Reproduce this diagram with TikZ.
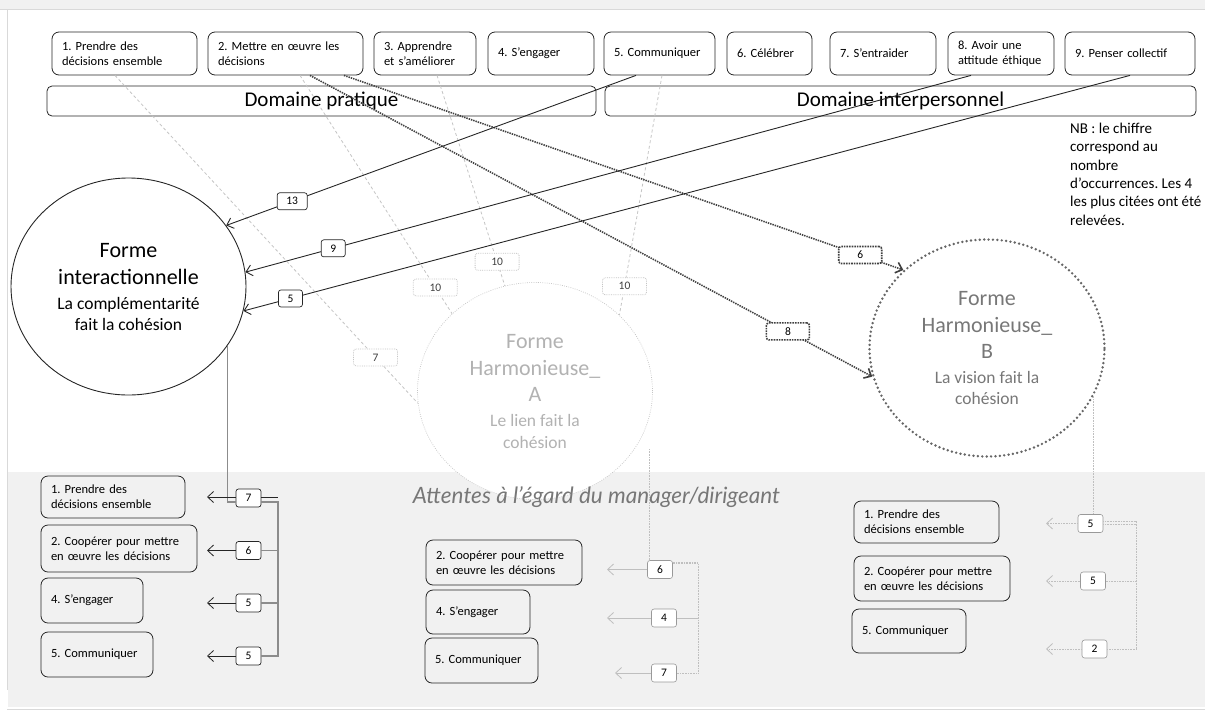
\documentclass[tikz,border=0pt]{standalone}
\usepackage{fontspec}
\setmainfont{Carlito}
\newfontfamily\headfont{Lato}
\usetikzlibrary{arrows.meta,shapes.geometric}
\frenchspacing
\definecolor{panel}{HTML}{F1F1F1}
\definecolor{rulegray}{HTML}{D9D9D9}
\definecolor{faint}{HTML}{C4C4C4}
\definecolor{midgray}{HTML}{777777}
\definecolor{darkgray}{HTML}{404040}
\newcommand\boxf{\fontsize{12.5}{15}\selectfont}
\newcommand\domf{\fontsize{21}{25}\selectfont}
\newcommand\bigf{\fontsize{22}{27}\selectfont}
\newcommand\smallf{\fontsize{17.5}{21}\selectfont}
\newcommand\nbf{\fontsize{15}{18.3}\selectfont}
\newcommand\numf{\fontsize{11.5}{13}\selectfont}
\newcommand\headf{\headfont\itshape\fontsize{22.5}{26}\selectfont}
\begin{document}
\begin{tikzpicture}[x=1pt,y=-1pt,
    practice/.style={draw=black!85,line width=.8pt,rounded corners=7pt,align=left,inner xsep=10pt,minimum height=43pt,font=\boxf},
    domainbox/.style={draw=black!85,line width=.8pt,rounded corners=5pt,minimum height=30pt,font=\domf},
    expect/.style={draw=black!85,line width=.8pt,rounded corners=7pt,align=left,inner xsep=10pt,font=\boxf},
    forme/.style={ellipse,minimum width=235pt,minimum height=217pt,inner sep=0pt,align=center,font=\bigf},
    numbox/.style={fill=white,rounded corners=2.5pt,font=\numf,minimum width=24pt,minimum height=17pt,inner xsep=8pt,inner ysep=1pt},
    numsolid/.style={numbox,draw=black!85,line width=.7pt},
    numdot/.style={numbox,draw=darkgray,densely dotted,minimum width=43pt},
    numfaint/.style={numbox,draw=faint,densely dotted,minimum width=44pt,text=black!75},
    numlight/.style={numbox,draw=black!40,line width=.6pt,minimum width=25pt,minimum height=18pt},
    openhead/.style={-{Straight Barb[length=6pt,width=11pt]}},
    strong/.style={draw=black!85,line width=.9pt,openhead},
    pointed/.style={draw=darkgray,line width=1.6pt,dash pattern=on 1.4pt off 1pt,openhead},
    faintline/.style={draw=faint,line width=.8pt,dash pattern=on 3pt off 2.5pt},
    elbow/.style={draw=black!45,line width=1.3pt},
    lightline/.style={draw=black!25,line width=.8pt},
    lightdot/.style={draw=black!25,line width=.8pt,dash pattern=on .8pt off .8pt}
  ]
  \useasboundingbox (0,0) rectangle (1205,716);
  \fill[panel] (0,0) rectangle (1205,9);
  \draw[rulegray] (0,9.5) -- (1205,9.5);
  \draw[rulegray] (7,10) -- (7,690);
  \fill[panel] (7.5,472) rectangle (1205,707);
  \draw[rulegray] (7,709.5) -- (1205,709.5);

  \node[practice,text width=125pt] (t1) at (124.5,53.5) {1. Prendre des\\décisions ensemble};
  \node[practice,text width=135pt] (t2) at (285.5,53.5) {2. Mettre en œuvre les\\décisions};
  \node[practice,text width=82pt] (t3) at (425,53.5) {3. Apprendre\\et s’améliorer};
  \node[practice,text width=86pt] (t4) at (541,53.5) {4. S’engager};
  \node[practice,text width=91pt] (t5) at (659.5,53.5) {5. Communiquer};
  \node[practice,text width=65pt] (t6) at (769.5,53.5) {6. Célébrer};
  \node[practice,text width=86pt] (t7) at (883,53.5) {7. S’entraider};
  \node[practice,text width=86pt] (t8) at (1001,53.5) {8. Avoir une\\attitude éthique};
  \node[practice,text width=110pt] (t9) at (1130,53.5) {9. Penser collectif};

  \node[domainbox,minimum width=549pt] (dPrat) at (321.5,101) {Domaine pratique};
  \node[domainbox,minimum width=591pt] (dInter) at (900.5,101) {Domaine interpersonnel};

  \node[anchor=north west,align=left,inner sep=0pt,font=\nbf] (nb) at (1070,123)
    {NB : le chiffre\\correspond au\\nombre\\d’occurrences. Les 4\\les plus citées ont été\\relevées.};

  \node[forme,draw=black!85,line width=.9pt] (fInter) at (128.5,286.5)
    {Forme\\interactionnelle\\[-2pt]\smallf La complémentarité\\[-6pt]\smallf fait la cohésion};
  \node[forme,fill=white,draw=faint,line width=.7pt,dash pattern=on .8pt off 1.4pt,text=black!30] (fHarmA) at (535,391)
    {Forme\\Harmonieuse\_\\[-1pt]A\\[-2pt]\smallf Le lien fait la\\[-5pt]\smallf cohésion};
  \node[forme,draw=black!60,line width=2.7pt,dash pattern=on 0pt off 4.4pt,line cap=round,text=midgray] (fHarmB) at (987,348)
    {Forme\\Harmonieuse\_\\[-1pt]B\\[-2pt]\smallf La vision fait la\\[-6pt]\smallf cohésion};

  \draw[faintline] ([xshift=-9.5pt]t1.south) -- node[numfaint,pos=0.86] (c7) {7} (fHarmA.186);
  \draw[faintline] ([xshift=14.5pt]t2.south) -- node[numfaint,pos=0.89] (c10a) {10} (fHarmA.137);
  \draw[faintline] ([xshift=12pt]t3.south) -- node[numfaint,pos=0.886] (c10b) {10} (fHarmA.106);
  \draw[faintline] ([xshift=2.5pt]t5.south) -- node[numfaint,pos=0.88] (c10c) {10} (fHarmA.42);

  \draw[pointed] ([xshift=58.5pt]t2.south) -- node[numdot,pos=0.923] (c6) {6} (fHarmB.137.5);
  \draw[pointed] ([xshift=24.5pt]t2.south) -- node[numdot,pos=0.85] (c8) {8} (fHarmB.194);

  \draw[strong] ([xshift=-23.5pt]t5.south) -- node[numsolid,pos=0.839,minimum width=30pt] (c13) {13} (fInter.32);
  \draw[strong] ([xshift=-30pt]t8.south) -- node[numsolid,pos=0.879] (c9) {9} (fInter.7.5);
  \draw[strong] (t9.south) -- node[numsolid,pos=0.947] (c5) {5} (fInter.-12);

  \node[font=\headf,text=midgray] (head) at (596.5,497) {Attentes à l’égard du manager/dirigeant};

  \coordinate (tipL) at (207,0);
  \coordinate (brL) at (278,0);
  \node[expect,text width=124pt,minimum height=42pt] (eL1) at (113,497) {1. Prendre des\\décisions ensemble};
  \node[expect,text width=136pt,minimum height=47pt] (eL2) at (119,548.5) {2. Coopérer pour mettre\\en œuvre les décisions};
  \node[expect,text width=82pt,minimum height=45pt] (eL3) at (92,600.5) {4. S’engager};
  \node[expect,text width=92pt,minimum height=45pt] (eL4) at (97,654.5) {5. Communiquer};
  \node[numsolid,minimum width=25pt,minimum height=18pt] (nL1) at (248.5,498) {7};
  \node[numsolid,minimum width=25pt,minimum height=18pt] (nL2) at (248.5,550.5) {6};
  \node[numsolid,minimum width=25pt,minimum height=18pt] (nL3) at (248.5,603) {5};
  \node[numsolid,minimum width=25pt,minimum height=18pt] (nL4) at (248.5,656) {5};
  \draw[elbow] (fInter.-31) |- ([yshift=-4pt]nL1.west);
  \draw[elbow] ([yshift=-4pt]nL1.east) -| (brL |- nL4.east) -- (nL4.east);
  \draw[black!85,line width=.8pt] ([yshift=1pt]nL1.east) -- ([yshift=1pt]nL1.east -| brL);
  \draw[elbow] (nL2.east) -- (nL2.east -| brL);
  \draw[elbow] (nL3.east) -- (nL3.east -| brL);
  \draw[strong,line width=.8pt] ([yshift=1pt]nL1.west) -- ([yshift=1pt]nL1.west -| tipL);
  \draw[strong,line width=.8pt] (nL2.west) -- (nL2.west -| tipL);
  \draw[strong,line width=.8pt] (nL3.west) -- (nL3.west -| tipL);
  \draw[strong,line width=.8pt] (nL4.west) -- (nL4.west -| tipL);

  \coordinate (dropA) at (649,449);
  \coordinate (tipM) at (607,0);
  \coordinate (tipMc) at (615,0);
  \coordinate (brM) at (698,0);
  \node[expect,text width=136pt,minimum height=45pt] (eM1) at (504,562.5) {2. Coopérer pour mettre\\en œuvre les décisions};
  \node[expect,text width=84pt,minimum height=44pt] (eM2) at (478,612) {4. S’engager};
  \node[expect,text width=93pt,minimum height=45pt] (eM3) at (481.5,660.5) {5. Communiquer};
  \node[numlight] (nM1) at (660,569.5) {6};
  \node[numlight] (nM2) at (664,618) {4};
  \node[numlight] (nM3) at (664,673) {7};
  \draw[lightdot] (dropA) -- (dropA |- nM1.north);
  \draw[lightdot] ([yshift=6pt]nM1.east) -| (brM |- nM3.east) -- (nM3.east);
  \draw[lightdot] ([yshift=7.5pt]nM1.east) -- ([yshift=7.5pt]nM1.east -| brM);
  \draw[lightline] (nM2.east) -- (nM2.east -| brM);
  \draw[lightline,openhead] (nM1.west) -- (nM1.west -| tipM);
  \draw[lightline,openhead] (nM2.west) -- (nM2.west -| tipM);
  \draw[lightline,openhead] (nM3.west) -- (nM3.west -| tipMc);

  \coordinate (tipR) at (1046,0);
  \coordinate (brR) at (1136,0);
  \node[expect,text width=125pt,minimum height=42pt] (eR1) at (926.5,522) {1. Prendre des\\décisions ensemble};
  \node[expect,text width=136pt,minimum height=45pt] (eR2) at (932,578.5) {2. Coopérer pour mettre\\en œuvre les décisions};
  \node[expect,text width=94pt,minimum height=44pt] (eR3) at (909,631) {5. Communiquer};
  \node[numlight] (nR1) at (1090.5,523.5) {5};
  \node[numlight] (nR2) at (1093,581) {5};
  \node[numlight] (nR3) at (1094.5,649) {2};
  \draw[lightdot] (fHarmB.-25.5) -- (fHarmB.-25.5 |- nR1.north);
  \draw[lightdot] ([yshift=2.5pt]nR1.east) -| (brR |- nR3.east) -- (nR3.east);
  \draw[lightdot] ([yshift=-.5pt]nR1.east) -- ([yshift=-.5pt]nR1.east -| brR);
  \draw[lightdot] (nR2.east) -- (nR2.east -| brR);
  \draw[lightdot,openhead] (nR1.west) -- (nR1.west -| tipR);
  \draw[lightdot,openhead] (nR2.west) -- (nR2.west -| tipR);
  \draw[lightdot,openhead] (nR3.west) -- (nR3.west -| tipR);
\end{tikzpicture}
\end{document}
